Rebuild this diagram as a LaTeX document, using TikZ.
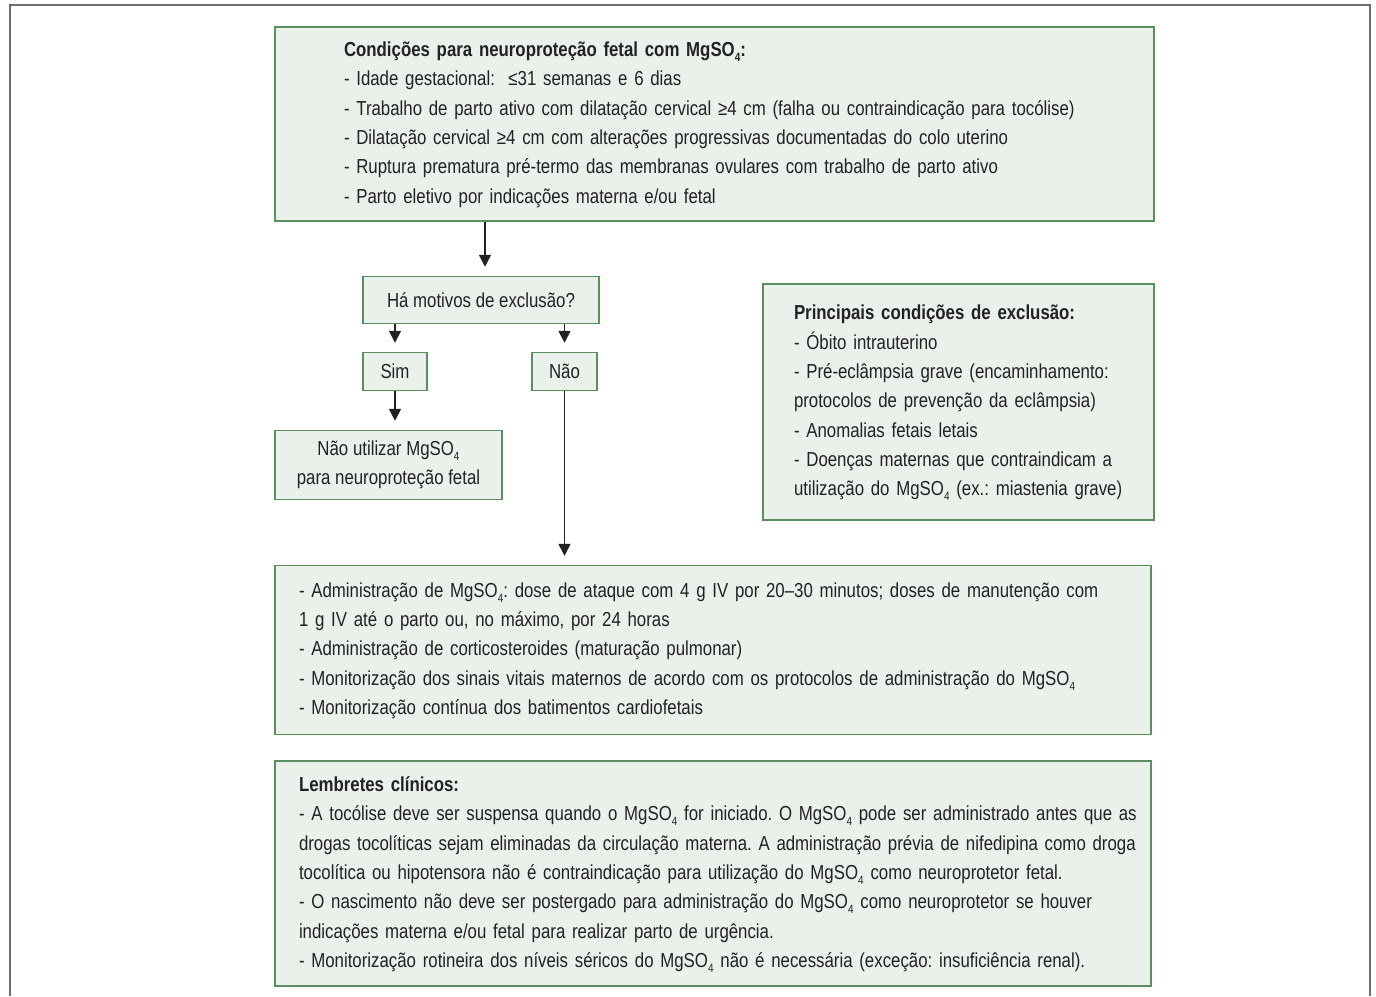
\documentclass[tikz,border=0pt]{standalone}
\usepackage{fontspec}
\setmainfont{Liberation Sans}[FakeStretch=0.83]
\usepackage{xcolor}
\usepackage{tikz}
\usetikzlibrary{arrows.meta}

\definecolor{boxfill}{HTML}{EAF0EA}
\definecolor{boxline}{HTML}{5A8F5F}
\definecolor{inkgray}{HTML}{222222}
\definecolor{framegray}{HTML}{6E6E6E}
\newcommand{\mgso}{MgSO\raisebox{-0.45ex}{\fontsize{9}{9}\selectfont 4}}
\frenchspacing

\begin{document}
\begin{tikzpicture}[
        x=0.75pt, y=-0.75pt,
        every node/.style={text=inkgray, font=\fontsize{15.2}{22}\selectfont},
        box/.style={draw=boxline, fill=boxfill, line width=1.1pt, inner ysep=0pt},
        listbox/.style={box, align=left},
        arr/.style={-{Triangle[width=9pt, length=9pt]}, line width=1.2pt, draw=inkgray, shorten >=6.75pt}
    ]
    \useasboundingbox (0,0) rectangle (1376,996);

    % Outer frame
    \draw[framegray, line width=1.4pt] (10,996) -- (10,5) -- (1370,5) -- (1370,996);

    % Conditions for use
    \node[listbox, minimum width=659.25pt, minimum height=145.5pt, inner xsep=51.75pt, text width=555.75pt] (cond) at (714.5,124) {%
        \begin{tabular}{@{}l@{}}
        \textbf{Condições para neuroproteção fetal com \mgso:}\\
        - Idade gestacional: \ ≤31 semanas e 6 dias\\
        - Trabalho de parto ativo com dilatação cervical ≥4 cm (falha ou contraindicação para tocólise)\\
        - Dilatação cervical ≥4 cm com alterações progressivas documentadas do colo uterino\\
        - Ruptura prematura pré-termo das membranas ovulares com trabalho de parto ativo\\
        - Parto eletivo por indicações materna e/ou fetal
        \end{tabular}};

    % Decision and answers
    \node[box, minimum width=177pt, minimum height=35.25pt] (dec) at (481,300) {Há motivos de exclusão?};
    \node[box, minimum width=48pt, minimum height=28.5pt] (sim) at (395,371.5) {Sim};
    \node[box, minimum width=48.75pt, minimum height=28.5pt] (nao) at (564.5,371.5) {Não};
    \node[box, align=center, minimum width=170.25pt, minimum height=51.75pt] (naoutil) at (388.5,465) {Não utilizar \mgso\\para neuroproteção fetal};

    % Exclusion conditions
    \node[listbox, minimum width=293.25pt, minimum height=177pt, inner xsep=23.25pt, text width=246.75pt] (excl) at (958.5,402) {%
        \begin{tabular}{@{}l@{}}
        \textbf{Principais condições de exclusão:}\\
        - Óbito intrauterino\\
        - Pré-eclâmpsia grave (encaminhamento:\\
        protocolos de prevenção da eclâmpsia)\\
        - Anomalias fetais letais\\
        - Doenças maternas que contraindicam a\\
        utilização do \mgso{} (ex.: miastenia grave)
        \end{tabular}};

    % Management
    \node[listbox, minimum width=657pt, minimum height=126.75pt, inner xsep=18pt, text width=621pt] (admin) at (713,650) {%
        \begin{tabular}{@{}l@{}}
        - Administração de \mgso: dose de ataque com 4 g IV por 20–30 minutos; doses de manutenção com\\
        1 g IV até o parto ou, no máximo, por 24 horas\\
        - Administração de corticosteroides (maturação pulmonar)\\
        - Monitorização dos sinais vitais maternos de acordo com os protocolos de administração do \mgso\\
        - Monitorização contínua dos batimentos cardiofetais
        \end{tabular}};

    % Clinical reminders
    \node[listbox, minimum width=657pt, minimum height=168.75pt, inner xsep=18pt, text width=621pt] (lemb) at (713,873.5) {%
        \begin{tabular}{@{}l@{}}
        \textbf{Lembretes clínicos:}\\
        - A tocólise deve ser suspensa quando o \mgso{} for iniciado. O \mgso{} pode ser administrado antes que as\\
        drogas tocolíticas sejam eliminadas da circulação materna. A administração prévia de nifedipina como droga\\
        tocolítica ou hipotensora não é contraindicação para utilização do \mgso{} como neuroprotetor fetal.\\
        - O nascimento não deve ser postergado para administração do \mgso{} como neuroprotetor se houver\\
        indicações materna e/ou fetal para realizar parto de urgência.\\
        - Monitorização rotineira dos níveis séricos do \mgso{} não é necessária (exceção: insuficiência renal).
        \end{tabular}};

    % Arrows
    \draw[arr] ([xshift=3pt]dec.north |- cond.south) -- ([xshift=3pt]dec.north);
    \draw[arr] (sim.north |- dec.south) -- (sim.north);
    \draw[arr] (nao.north |- dec.south) -- (nao.north);
    \draw[arr] (sim.south) -- (sim.south |- naoutil.north);
    \draw[arr] (nao.south) -- (nao.south |- admin.north);

\end{tikzpicture}
\end{document}
